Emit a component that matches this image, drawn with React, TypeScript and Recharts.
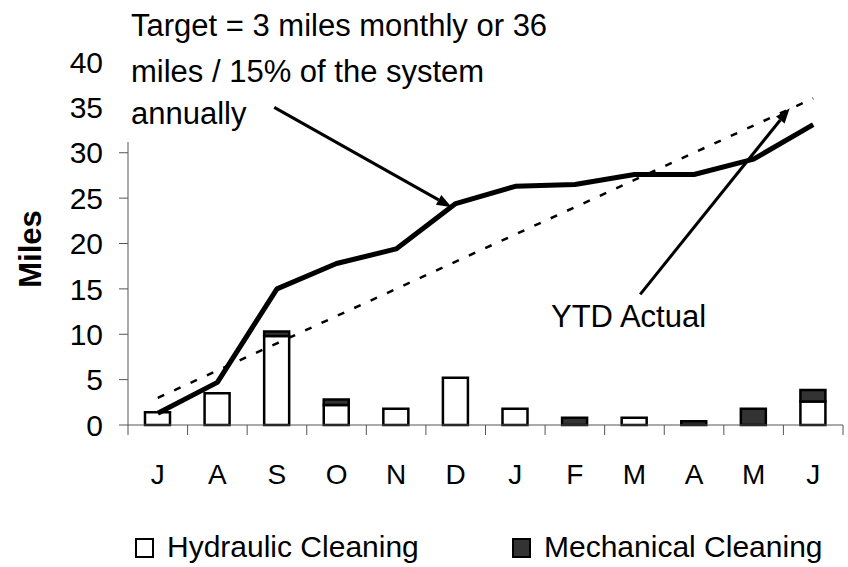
import {
  ComposedChart,
  Bar,
  Line,
  XAxis,
  YAxis,
  Legend,
  ReferenceLine,
} from "recharts";

const MONTHS = ["Jul", "Aug", "Sep", "Oct", "Nov", "Dec", "Jan", "Feb", "Mar", "Apr", "May", "Jun"];
const HYDRAULIC = [1.4, 3.5, 9.8, 2.2, 1.8, 5.2, 1.8, 0, 0.8, 0, 0, 2.6];
const MECHANICAL = [0, 0, 0.5, 0.6, 0, 0, 0, 0.8, 0, 0.4, 1.8, 1.25];
const YTD_ACTUAL = [1.3, 4.7, 15.0, 17.8, 19.4, 24.4, 26.3, 26.5, 27.6, 27.6, 29.3, 33.1];
const TARGET = [3, 6, 9, 12, 15, 18, 21, 24, 27, 30, 33, 36];
const Y_TICKS = [0, 5, 10, 15, 20, 25, 30, 35, 40];

// annotation arrows; x runs 0..11 across the plot width, y in miles
const TARGET_ARROW = [{ x: 2.25, y: 35.0 }, { x: 4.98, y: 24.0 }];
const YTD_ARROW = [{ x: 7.88, y: 14.4 }, { x: 10.18, y: 34.9 }];

const data = MONTHS.map((m, i) => ({
  month: m,
  hydraulic: HYDRAULIC[i],
  mechanical: MECHANICAL[i],
  ytd: YTD_ACTUAL[i],
  target: TARGET[i],
}));

const FONT = '"Liberation Sans", Arial, sans-serif';
const AXIS_COLOR = "#555";
const TICK_SIZE = 10;
const TICK_MARGIN = 29;
const DARK = "#333333";

function MonthTick(props: any) {
  const { x, y, payload, index, visibleTicksCount } = props;
  const half = payload?.offset || 715 / 12 / 2;
  const top = y - TICK_MARGIN - TICK_SIZE;
  const bottom = y - TICK_MARGIN;
  return (
    <g>
      <line x1={x - half} x2={x - half} y1={top} y2={bottom} stroke={AXIS_COLOR} />
      {index === visibleTicksCount - 1 && (
        <line x1={x + half} x2={x + half} y1={top} y2={bottom} stroke={AXIS_COLOR} />
      )}
      <text x={x} y={y} dy="0.71em" textAnchor="middle" fontSize={28} fontFamily={FONT} fill="#000">
        {String(payload.value).charAt(0)}
      </text>
    </g>
  );
}

function arrow(p: any) {
  const { x1, y1, x2, y2 } = p;
  const a = Math.atan2(y2 - y1, x2 - x1);
  const len = 15;
  const w = 5.5;
  const bx = x2 - len * Math.cos(a);
  const by = y2 - len * Math.sin(a);
  const pts = [
    [x2, y2],
    [bx + w * Math.sin(a), by - w * Math.cos(a)],
    [bx - w * Math.sin(a), by + w * Math.cos(a)],
  ]
    .map((q) => q.join(","))
    .join(" ");
  return (
    <g>
      <line x1={x1} y1={y1} x2={bx} y2={by} stroke="#000" strokeWidth={3} />
      <polygon points={pts} fill="#000" />
    </g>
  );
}

const LEGEND_X = [135, 512];

function LegendContent(props: any) {
  const items = (props.payload || []).filter((p: any) => p.type !== "none");
  return (
    <div style={{ position: "relative", height: 40, width: 848 }}>
      {items.map((p: any, i: number) => (
        <div key={p.value} style={{ position: "absolute", left: LEGEND_X[i], top: 0, height: 40 }}>
          <div
            style={{
              position: "absolute",
              left: 0,
              top: 11,
              width: 19,
              height: 20,
              boxSizing: "border-box",
              border: "2.5px solid #000",
              background: p.color,
            }}
          />
          <span
            style={{
              position: "absolute",
              left: 32,
              top: 0,
              whiteSpace: "nowrap",
              fontFamily: FONT,
              fontSize: 30,
              lineHeight: "40px",
              color: "#000",
            }}
          >
            {p.value}
          </span>
        </div>
      ))}
    </div>
  );
}

export default function App() {
  return (
    <div style={{ position: "absolute", left: 0, top: 0, width: 848, height: 567, background: "#fff" }}>
      <ComposedChart
        width={848}
        height={567}
        data={data}
        margin={{ top: 62, right: 5, bottom: 0, left: 0 }}
      >
        <XAxis
          dataKey="month"
          height={102}
          tickLine={false}
          tickSize={TICK_SIZE}
          tickMargin={TICK_MARGIN}
          axisLine={{ stroke: AXIS_COLOR }}
          tick={<MonthTick />}
          interval={0}
        />
        <XAxis xAxisId="num" type="number" domain={[0, 11]} allowDataOverflow hide />
        <YAxis
          width={128}
          domain={[0, 40]}
          ticks={Y_TICKS}
          interval={0}
          tickSize={9}
          tickMargin={16}
          axisLine={{ stroke: AXIS_COLOR }}
          tickLine={{ stroke: AXIS_COLOR }}
          tick={{ fontSize: 30, fill: "#000", fontFamily: FONT }}
        />
        <Legend verticalAlign="bottom" content={<LegendContent />} wrapperStyle={{ left: 0, width: 848 }} />
        <Bar
          dataKey="hydraulic"
          name="Hydraulic Cleaning"
          stackId="a"
          fill="#ffffff"
          stroke="#000"
          strokeWidth={2.5}
          barSize={25}
          isAnimationActive={false}
        />
        <Bar
          dataKey="mechanical"
          name="Mechanical Cleaning"
          stackId="a"
          fill={DARK}
          stroke="#000"
          strokeWidth={2.5}
          barSize={25}
          isAnimationActive={false}
        />
        <Line
          dataKey="target"
          stroke="#000"
          strokeWidth={2.5}
          strokeDasharray="7 11"
          dot={false}
          legendType="none"
          isAnimationActive={false}
        />
        <Line
          dataKey="ytd"
          stroke="#000"
          strokeWidth={5}
          strokeLinejoin="round"
          dot={false}
          legendType="none"
          isAnimationActive={false}
        />
        <ReferenceLine xAxisId="num" segment={TARGET_ARROW} shape={arrow} ifOverflow="visible" />
        <ReferenceLine xAxisId="num" segment={YTD_ARROW} shape={arrow} ifOverflow="visible" />
      </ComposedChart>
      <svg
        width={848}
        height={567}
        style={{ position: "absolute", left: 0, top: 0, pointerEvents: "none" }}
        fontFamily={FONT}
      >
        <rect x={119} y={50} width={14} height={92} fill="#fff" />
        <text x={131} y={36} fontSize={31}>Target = 3 miles monthly or 36</text>
        <text x={131} y={82} fontSize={31}>miles / 15% of the system</text>
        <text x={131} y={124} fontSize={31}>annually</text>
        <text x={551} y={327} fontSize={31}>YTD Actual</text>
        <text
          transform="translate(41,249) rotate(-90)"
          textAnchor="middle"
          fontSize={31}
          fontWeight="bold"
        >
          Miles
        </text>
      </svg>
    </div>
  );
}
